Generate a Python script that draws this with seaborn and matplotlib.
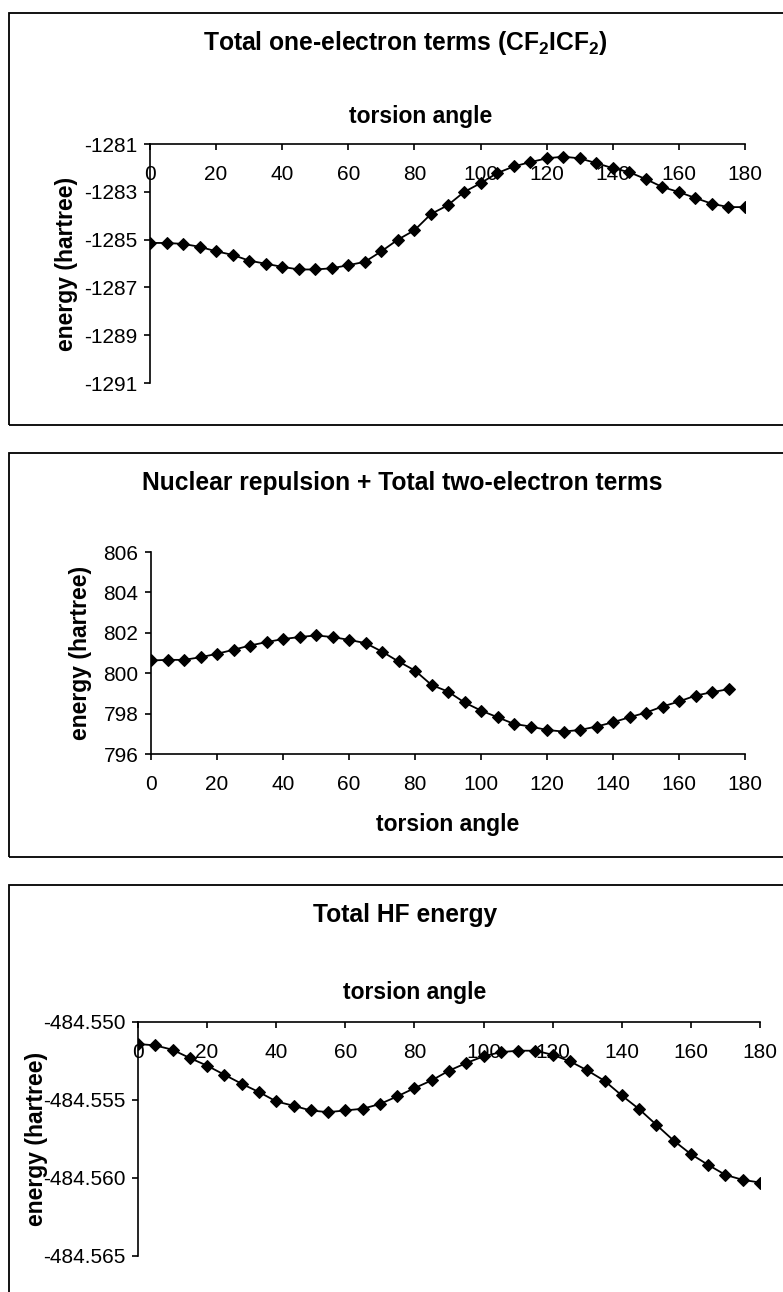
import numpy as np
import seaborn as sns
import matplotlib.pyplot as plt
from matplotlib.patches import Rectangle
from matplotlib.ticker import FormatStrFormatter

# torsion angles (degrees)
angle = [0, 5, 10, 15, 20, 25, 30, 35, 40, 45, 50, 55, 60, 65, 70, 75, 80, 85, 90,
         95, 100, 105, 110, 115, 120, 125, 130, 135, 140, 145, 150, 155, 160, 165,
         170, 175, 180]
angle_2 = angle[:-1]  # second chart stops at 175

one_electron = [-1285.14, -1285.14, -1285.18, -1285.30, -1285.49, -1285.64, -1285.88,
                -1286.01, -1286.14, -1286.25, -1286.25, -1286.20, -1286.07, -1285.93,
                -1285.49, -1285.00, -1284.61, -1283.93, -1283.57, -1283.01, -1282.64,
                -1282.22, -1281.94, -1281.76, -1281.60, -1281.53, -1281.60, -1281.80,
                -1282.01, -1282.18, -1282.47, -1282.80, -1283.01, -1283.26, -1283.50,
                -1283.64, -1283.64]

two_electron = [800.63, 800.66, 800.66, 800.79, 800.96, 801.16, 801.37, 801.54, 801.69,
                801.79, 801.87, 801.79, 801.65, 801.49, 801.07, 800.58, 800.13, 799.42,
                799.09, 798.55, 798.15, 797.82, 797.49, 797.36, 797.19, 797.11, 797.19,
                797.36, 797.57, 797.82, 798.05, 798.35, 798.60, 798.89, 799.06, 799.21]

hf_energy = [-484.55141, -484.55150, -484.55178, -484.55231, -484.55280, -484.55338,
             -484.55396, -484.55449, -484.55509, -484.55537, -484.55567, -484.55578,
             -484.55567, -484.55556, -484.55526, -484.55477, -484.55424, -484.55374,
             -484.55312, -484.55263, -484.55220, -484.55193, -484.55184, -484.55184,
             -484.55210, -484.55252, -484.55310, -484.55377, -484.55471, -484.55558,
             -484.55659, -484.55760, -484.55847, -484.55916, -484.55980, -484.56012,
             -484.56029]

x_ticks = [0, 20, 40, 60, 80, 100, 120, 140, 160, 180]
y_ticks_1 = [-1291, -1289, -1287, -1285, -1283, -1281]
y_ticks_2 = [796, 798, 800, 802, 804, 806]
y_ticks_3 = [-484.565, -484.560, -484.555, -484.550]

sns.set_style("white")
plt.rcParams["font.family"] = ["Liberation Sans", "DejaVu Sans"]
plt.rcParams["axes.unicode_minus"] = False
plt.rcParams["mathtext.default"] = "regular"
for k in ["text.color", "axes.labelcolor", "xtick.color", "ytick.color"]:
    plt.rcParams[k] = "black"

W, H = 783, 1292
fig = plt.figure(figsize=(W / 100, H / 100), dpi=100)


def box(left, top, right, bottom):
    return [left / W, 1 - bottom / H, (right - left) / W, (bottom - top) / H]


def fx(px):
    return px / W


def fy(py):
    return 1 - py / H


def style_axes(ax, xlabel_top):
    ax.spines["right"].set_visible(False)
    ax.spines["top"].set_visible(False)
    for s in ["left", "bottom"]:
        ax.spines[s].set_color("black")
        ax.spines[s].set_linewidth(1.2)
    if xlabel_top:
        ax.spines["bottom"].set_position(("axes", 1.0))
    ax.tick_params(axis="both", which="both", direction="out", length=4, width=1.2,
                   color="black", labelcolor="black", labelsize=15, left=True, bottom=True)
    ax.tick_params(axis="x", pad=11)
    ax.tick_params(axis="y", pad=5)
    ax.set_xlim(0, 180)
    ax.set_xticks(x_ticks)
    ax.grid(False)


line_kw = dict(color="black", marker="D", markersize=6.5, markeredgecolor="black",
               linewidth=1.3)
label_kw = dict(fontsize=16.5, fontweight="bold", va="center", color="black")
title_kw = dict(fontsize=17.7, fontweight="bold", ha="center", va="center", color="black")

# panel frames
for top, bottom in [(13, 425), (453, 857), (885, 1310)]:
    fig.patches.append(Rectangle((fx(9), fy(bottom)), fx(820) - fx(9), fy(top) - fy(bottom),
                                 transform=fig.transFigure, fill=False,
                                 edgecolor="black", linewidth=1.3))

# chart 1
ax1 = fig.add_axes(box(150, 144, 745, 383))
sns.lineplot(x=angle, y=one_electron, ax=ax1, **line_kw)
style_axes(ax1, True)
ax1.set_ylim(-1291, -1281)
ax1.set_yticks(y_ticks_1)
ax1.set_xlabel("torsion angle", **label_kw)
ax1.xaxis.set_label_coords((421 - 150) / 595, (383 - 117) / 239)
ax1.set_ylabel("energy (hartree)", **label_kw)
ax1.yaxis.set_label_coords((67 - 150) / 595, 0.5)
fig.text(fx(405), fy(43), "Total one-electron terms (CF$_2$ICF$_2$)", **title_kw)

# chart 2
ax2 = fig.add_axes(box(151, 552, 745, 754))
sns.lineplot(x=angle_2, y=two_electron, ax=ax2, **line_kw)
style_axes(ax2, False)
ax2.set_ylim(796, 806)
ax2.set_yticks(y_ticks_2)
ax2.set_xlabel("torsion angle", **label_kw)
ax2.xaxis.set_label_coords(0.5, (754 - 825) / 202)
ax2.set_ylabel("energy (hartree)", **label_kw)
ax2.yaxis.set_label_coords((80 - 151) / 594, 0.5)
fig.text(fx(402), fy(483), "Nuclear repulsion + Total two-electron terms", **title_kw)

# chart 3
ax3 = fig.add_axes(box(138, 1022, 760, 1256))
sns.lineplot(x=angle, y=hf_energy, ax=ax3, **line_kw)
style_axes(ax3, True)
ax3.set_ylim(-484.565, -484.550)
ax3.set_yticks(y_ticks_3)
ax3.yaxis.set_major_formatter(FormatStrFormatter("%.3f"))
ax3.set_xlabel("torsion angle", **label_kw)
ax3.xaxis.set_label_coords((415 - 138) / 622, (1256 - 992) / 234)
ax3.set_ylabel("energy (hartree)", **label_kw)
ax3.yaxis.set_label_coords((36 - 138) / 622, 0.5)
fig.text(fx(405), fy(915), "Total HF energy", **title_kw)

fig.savefig("out.png", dpi=100)
